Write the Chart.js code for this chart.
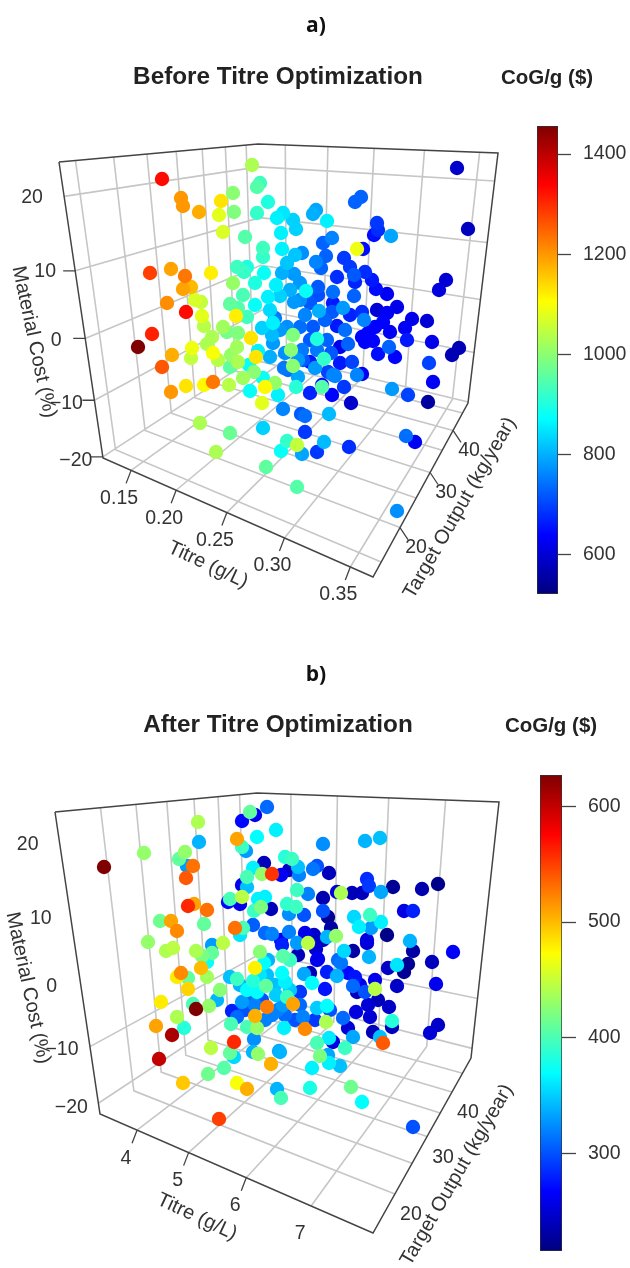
<!DOCTYPE html>
<html><head><meta charset="utf-8">
<style>
html,body{margin:0;padding:0;background:#fff;width:630px;height:1268px;overflow:hidden}
canvas{position:absolute;display:block}
</style>
<script src="https://cdn.jsdelivr.net/npm/chart.js@4"></script>
</head><body>
<canvas id="panelA" style="left:0;top:0"></canvas>
<canvas id="panelB" style="left:0;top:634px"></canvas>
<canvas id="barA"></canvas>
<canvas id="barB"></canvas>
<script>
// ---------- values ----------
const jetStops = ['#00007F','#0000FF','#007FFF','#00FFFF','#7FFF7F','#FFFF00','#FF7F00','#FF0000','#7F0000'];

// Panel a: position on the view plane of the 3-D box, and CoG/g
const panelA_view_x = [
162,181,183,199,221,219,233,234,223,252,
260,257,257,245,150,171,185,211,191,183,
167,186,195,201,202,204,152,138,172,162,
192,191,171,186,204,213,229,243,250,237,
247,244,233,255,243,230,238,255,236,247,
223,227,238,212,251,207,237,213,218,231,
238,230,256,258,249,254,264,276,268,270,
273,270,273,285,303,315,298,288,333,265,
275,263,278,296,262,283,293,291,293,317,
324,322,310,332,344,268,277,283,293,296,
281,316,313,327,377,378,374,391,355,361,
457,468,363,357,332,323,263,263,282,295,
302,287,316,326,321,344,350,365,337,354,
355,372,376,387,446,439,282,294,300,306,
318,318,333,354,294,310,319,333,343,332,
350,362,377,397,387,364,412,427,383,405,
337,390,375,362,368,365,373,407,432,287,
300,313,327,302,317,348,340,331,340,389,
378,395,429,459,452,433,328,357,362,335,
392,408,428,301,305,329,351,305,263,200,
230,216,266,297,287,297,281,302,324,317,
349,406,415,397,
280,290,300,305,325,345,310,280,275,310,
322,352,298,284,262,272];
const panelA_view_y = [
179,198,206,212,201,215,193,212,232,165,
183,187,213,237,273,269,276,273,287,289,
303,312,300,302,316,326,334,347,355,367,
348,358,392,386,385,382,385,378,391,267,
267,272,283,283,295,304,308,305,316,317,
327,332,333,337,338,344,347,353,360,355,
362,367,357,351,365,372,273,285,297,310,
323,357,343,353,360,368,377,370,375,387,
383,378,395,387,403,409,335,350,366,339,
359,387,393,395,387,202,218,213,220,229,
233,210,214,221,223,230,235,236,202,197,
168,229,249,249,238,243,248,257,249,255,
253,263,262,256,268,258,267,272,277,275,
282,280,289,294,280,290,273,274,283,291,
287,295,292,296,302,303,311,303,308,312,
315,312,310,307,313,320,319,321,322,328,
326,332,327,337,333,342,341,340,342,327,
327,327,340,350,350,344,347,353,363,347,
354,357,363,348,355,382,372,375,374,376,
389,395,402,414,416,414,403,432,428,423,
433,452,467,487,441,445,451,454,442,452,
447,436,442,511,
296,290,300,315,320,330,340,330,318,362,
385,362,360,368,328,335];
const panelA_cog = [
1330,1200,1200,1180,1130,1080,1000,990,1070,1030,
930,950,920,950,1280,1190,1230,1120,1170,1190,
1210,1330,1070,1050,1080,1040,1310,1456,1180,1260,
1090,1050,1200,1130,1110,1230,1040,1020,880,930,
900,920,1010,900,940,960,950,880,1120,930,
1020,980,990,1030,1130,1030,1020,1100,1040,1010,
1030,960,1130,860,880,1000,880,860,860,840,
860,800,780,770,720,780,790,740,760,1110,
1010,880,860,910,1080,760,990,1000,1000,900,
920,950,670,640,690,900,860,850,830,830,
860,790,800,860,690,680,650,790,730,730,
590,580,650,1090,760,730,930,920,860,820,
770,820,760,730,730,690,690,680,680,720,
670,660,650,630,600,610,800,780,780,880,
720,710,740,730,780,720,800,660,780,720,
670,680,600,620,630,760,620,600,640,630,
660,630,640,640,640,640,640,660,620,770,
740,720,730,750,750,730,620,720,660,730,
650,640,700,570,570,630,700,760,630,760,
780,700,550,720,740,810,590,690,830,1030,
970,1030,960,950,920,1050,880,790,810,690,
680,740,630,770,
830,800,770,760,730,740,720,780,750,660,
640,700,780,750,830,810];

// Panel b
const panelB_view_x = [
104,144,198,199,185,179,187,193,186,237,
242,250,255,242,246,257,253,247,262,228,
230,242,247,242,240,188,194,207,160,171,
177,204,254,235,243,240,253,148,166,173,
196,212,223,212,202,207,201,207,181,177,
188,188,161,220,217,209,193,196,177,156,
172,184,211,234,232,230,237,255,260,264,
267,282,266,253,247,257,285,276,242,255,
267,293,287,255,237,231,247,257,254,279,
258,284,305,303,278,317,327,325,300,312,
304,327,337,308,283,290,298,336,318,326,
329,317,320,333,267,276,323,365,380,285,
292,264,272,281,289,298,299,313,317,329,
367,369,393,422,438,381,337,341,352,362,
297,308,323,265,258,261,271,287,296,289,
304,323,328,404,413,354,370,359,371,381,
331,387,265,272,289,281,282,305,314,297,
323,327,367,367,410,413,453,353,344,316,
317,369,338,341,388,408,397,404,432,310,
355,348,375,353,360,397,436,357,365,375,
378,368,389,356,370,343,392,392,438,430,
348,373,353,383,380,345,159,230,234,253,
224,208,183,237,247,271,280,277,281,310,
312,329,328,340,351,362,219,413,
240,250,262,272,285,295,265,245,290,275,
260,268,283,300,315,330];
const panelB_view_y = [
867,853,822,842,852,859,866,866,878,839,
821,812,815,847,851,837,868,877,874,902,
899,885,887,897,904,906,904,910,921,921,
931,924,911,928,928,935,925,942,951,948,
951,945,943,953,956,962,968,977,973,977,
978,989,1002,990,1000,1006,1004,1009,1017,1026,
1035,1028,1048,1042,1011,977,979,968,952,963,
975,973,986,981,990,992,982,995,1002,1005,
1007,1004,997,1016,1017,1024,1027,1028,1039,1051,
1054,1028,1029,1017,1010,1008,1006,989,992,983,
974,972,976,943,956,960,955,936,959,1022,
1038,1043,1056,1042,807,830,844,841,838,857,
859,863,874,875,870,867,875,869,866,873,
879,886,887,889,884,892,892,893,893,893,
890,894,898,897,899,907,909,904,907,914,
915,911,917,911,911,917,915,927,928,922,
928,935,933,934,932,940,945,933,935,943,
940,937,940,943,941,951,952,951,951,949,
960,957,960,963,968,964,965,972,962,973,
977,973,980,986,985,986,984,992,992,989,
1000,1005,1007,1012,1017,1018,1021,1027,1025,1033,
1028,1032,1037,1043,1037,1048,1059,1053,1057,1052,
1068,1074,1083,1083,1089,1064,1052,1089,1098,1088,
1068,1063,1055,1066,1087,1102,1119,1127,
985,1000,1000,1015,1015,1020,1020,1010,990,985,
975,960,1005,1005,1020,1010];
const panelB_cog = [
627,430,440,340,430,410,330,530,540,510,
270,410,265,395,330,370,365,400,430,270,
400,260,345,445,260,560,510,530,415,510,
520,410,395,530,400,360,305,430,440,445,
440,330,445,410,420,375,500,435,520,480,
410,490,480,425,340,430,400,627,440,510,
610,385,445,560,280,345,395,478,425,370,
345,370,410,385,370,370,365,350,330,320,
525,510,395,505,310,400,400,430,325,335,
430,365,520,320,320,350,370,275,290,370,
335,280,340,445,405,395,240,430,260,440,
362,400,420,255,310,365,325,340,345,385,
395,240,555,265,245,345,320,315,300,240,
285,290,225,235,220,335,250,440,240,240,
395,320,235,365,365,420,240,390,395,325,
300,300,225,255,280,355,395,365,330,365,
230,220,310,320,320,265,280,260,245,330,
240,340,255,250,340,230,265,230,355,250,
260,340,310,315,245,225,360,225,240,240,
275,270,260,310,260,245,260,240,300,445,
240,250,245,255,250,310,385,240,245,250,
250,240,335,540,345,395,600,410,355,340,
405,415,495,470,505,505,340,340,400,380,
365,365,335,345,415,370,550,300,
340,310,300,320,310,300,320,300,350,345,
360,340,330,310,290,300];

// Axis ticks
const panelA_titreTicks = [0.15,0.20,0.25,0.30,0.35];
const panelA_titreLabels = ['0.15','0.20','0.25','0.30','0.35'];
const panelB_titreTicks = [4,5,6,7];
const panelB_titreLabels = ['4','5','6','7'];
const outputGridA = [15,20,25,30,35,40,45];
const outputGridB = [20,25,30,35,40,45];
const outputTicks = [20,30,40];
const costTicks = [-20,-10,0,10,20];
const panelA_cogTicks = [600,800,1000,1200,1400];
const panelB_cogTicks = [300,400,500,600];

// ---------- layout of the two 3-D boxes ----------
const costLabDx=[-27,-28,-29,-30,-32], costLabDy=[4,3,2,1,1];
const axisFont='20px "Liberation Sans"', titleFont='bold 24.3px "Liberation Sans"', capFont='bold 20.5px "Liberation Sans"';
const panels = {
 a:{ top:0, h:634, xs:panelA_view_x, ys:panelA_view_y, cog:panelA_cog, cogRange:[522,1456],
   fl:[103,458], fr:[373,577], far:[468,403], back:[263,353], lt:[59,162], bt:[258,144], rt:[498,153],
   titreRange:[0.1157,0.3657], outRange:[13.05,48.1], costRange:[-20.2,24.3],
   titreTicks:panelA_titreTicks, titreLabels:panelA_titreLabels, outGrid:outputGridA,
   titreTick:[-5,13], titreLab:[-12,28], outTick:[8,12], outLab:[16,20], costTick:[-12,0],
   texts:[
    {t:'a)',x:316,y:26,font:'bold 21px "Open Sans"',c:'#111'},
    {t:'Before Titre Optimization',x:278,y:77,font:titleFont,c:'#222'},
    {t:'CoG/g ($)',x:547,y:78,font:capFont,c:'#222'},
    {t:'Material Cost (%)',x:34,y:342,rot:78,font:axisFont,c:'#333'},
    {t:'Titre (g/L)',x:208,y:565,rot:25,font:axisFont,c:'#333'},
    {t:'Target Output (kg/year)',x:460,y:508,rot:-60,font:axisFont,c:'#333'}]},
 b:{ top:634, h:634, xs:panelB_view_x, ys:panelB_view_y, cog:panelB_cog, cogRange:[216,627],
   fl:[100,1114], fr:[373,1233], far:[471,1058], back:[262,1003], lt:[55,812], bt:[257,793], rt:[499,802],
   titreRange:[3.21,7.85], outRange:[14.5,49.5], costRange:[-22,24],
   titreTicks:panelB_titreTicks, titreLabels:panelB_titreLabels, outGrid:outputGridB,
   titreTick:[-5,13], titreLab:[-11,28], outTick:[8,12], outLab:[16,21], costTick:[-13,0],
   texts:[
    {t:'b)',x:316,y:675,font:'bold 21px "Open Sans"',c:'#111'},
    {t:'After Titre Optimization',x:278,y:725,font:titleFont,c:'#222'},
    {t:'CoG/g ($)',x:551,y:726,font:capFont,c:'#222'},
    {t:'Material Cost (%)',x:28,y:988,rot:78,font:axisFont,c:'#333'},
    {t:'Titre (g/L)',x:197,y:1217,rot:25,font:axisFont,c:'#333'},
    {t:'Target Output (kg/year)',x:457,y:1175,rot:-60,font:axisFont,c:'#333'}]}
};

// perspective map of a unit square onto a quadrilateral (a box face)
function face(p0,p1,p2,p3){
  const sx=p0[0]-p1[0]+p2[0]-p3[0], sy=p0[1]-p1[1]+p2[1]-p3[1];
  const dx1=p1[0]-p2[0], dx2=p3[0]-p2[0], dy1=p1[1]-p2[1], dy2=p3[1]-p2[1];
  const den=dx1*dy2-dx2*dy1, g=(sx*dy2-dx2*sy)/den, h=(dx1*sy-sx*dy1)/den;
  const a=p1[0]-p0[0]+g*p1[0], b=p3[0]-p0[0]+h*p3[0];
  const d=p1[1]-p0[1]+g*p1[1], e=p3[1]-p0[1]+h*p3[1];
  return (u,v)=>{const w=g*u+h*v+1; return {x:(a*u+b*v+p0[0])/w, y:(d*u+e*v+p0[1])/w};};
}
const norm=(v,r)=>(v-r[0])/(r[1]-r[0]);
const GAP={x:NaN,y:NaN};

function jetColor(t){
  t=Math.min(1,Math.max(0,t))*(jetStops.length-1);
  const i=Math.min(jetStops.length-2,Math.floor(t)), f=t-i;
  const rgb=s=>[1,3,5].map(k=>parseInt(s.substr(k,2),16));
  const A=rgb(jetStops[i]),B=rgb(jetStops[i+1]);
  return 'rgb('+A.map((c,k)=>Math.round(c+(B[k]-c)*f)).join(',')+')';
}

const textPlugin={id:'panelText',afterDatasetsDraw(chart){
  const cfg=chart.options.plugins.panelText, c=chart.ctx;
  const sx=chart.scales.x, sy=chart.scales.y;
  c.save();
  for(const it of cfg.items){
    c.save();
    c.translate(sx.getPixelForValue(it.x),sy.getPixelForValue(it.y));
    if(it.rot)c.rotate(it.rot*Math.PI/180);
    c.font=it.font; c.fillStyle=it.c; c.textAlign=it.align||'center'; c.textBaseline='middle';
    c.fillText(it.t,0,0);
    c.restore();
  }
  c.restore();
}};

function buildPanel(id,p){
  const floor=face(p.fl,p.fr,p.far,p.back);
  const left =face(p.fl,p.back,p.bt,p.lt);
  const right=face(p.back,p.far,p.rt,p.bt);
  const grid=[], box=[], ticks=[], items=[...p.texts];
  const labelFont='19.5px "Liberation Sans"';
  const seg=(arr,...pts)=>{arr.push(...pts,GAP);};
  p.titreTicks.forEach((v,i)=>{
    const u=norm(v,p.titreRange);
    seg(grid,floor(u,0),floor(u,1),right(u,1));
    const e=floor(u,0);
    seg(ticks,e,{x:e.x+p.titreTick[0],y:e.y+p.titreTick[1]});
    items.push({t:p.titreLabels[i],x:e.x+p.titreLab[0],y:e.y+p.titreLab[1],font:labelFont,c:'#333'});
  });
  p.outGrid.forEach(v=>{
    const t=norm(v,p.outRange);
    seg(grid,floor(1,t),floor(0,t),left(t,1));
  });
  outputTicks.forEach(v=>{
    const e=floor(1,norm(v,p.outRange));
    seg(ticks,e,{x:e.x+p.outTick[0],y:e.y+p.outTick[1]});
    items.push({t:String(v),x:e.x+p.outLab[0],y:e.y+p.outLab[1],font:labelFont,c:'#333'});
  });
  costTicks.forEach((v,i)=>{
    const w=norm(v,p.costRange);
    seg(grid,left(0,w),left(1,w),right(1,w));
    const e=left(0,w);
    seg(ticks,e,{x:e.x+p.costTick[0],y:e.y+p.costTick[1]});
    items.push({t:String(v).replace('-','\u2212'),x:e.x+costLabDx[i],y:e.y+costLabDy[i],font:labelFont,c:'#333'});
  });
  const P=a=>({x:a[0],y:a[1]});
  seg(box,P(p.lt),P(p.bt),P(p.rt),P(p.far),P(p.fr),P(p.fl),P(p.lt));
  seg(box,P(p.bt),P(p.back));
  seg(box,P(p.fl),P(p.back),P(p.far));

  const order=p.cog.map((_,i)=>i).sort((i,j)=>p.cog[i]-p.cog[j]);
  const pts=order.map(i=>({x:p.xs[i],y:p.ys[i]}));
  const cols=order.map(i=>jetColor(norm(p.cog[i],p.cogRange)));

  const line=(data,color,width,ord)=>({type:'scatter',data,showLine:true,pointRadius:0,borderColor:color,borderWidth:width,order:ord,spanGaps:false,fill:false,parsing:false});
  const el=document.getElementById(id);
  el.width=630; el.height=p.h; el.style.width='630px'; el.style.height=p.h+'px';
  new Chart(el,{
    type:'scatter',
    data:{datasets:[
      line(grid,'#c6c6c6',1.6,3),
      line(box,'#444',1.5,2),
      line(ticks,'#444',1.3,2),
      {label:'CoG/g ($)',data:pts,order:0,pointRadius:7.2,pointBorderWidth:0,pointBackgroundColor:cols,showLine:false}
    ]},
    options:{
      responsive:false,animation:false,
      layout:{padding:0,autoPadding:false},
      plugins:{legend:{display:false},tooltip:{enabled:false},title:{display:false},panelText:{items}},
      scales:{
        x:{type:'linear',display:false,min:0,max:630},
        y:{type:'linear',display:false,reverse:true,min:p.top,max:p.top+p.h}
      }
    },
    plugins:[textPlugin]
  });
}

function buildBar(id,range,tickVals,left,top,bottom,barW,tickLen,tickGap){
  const pad=8;
  const el=document.getElementById(id);
  const W=630-left+2, H=bottom-top+pad*2;
  el.width=W; el.height=H;
  el.style.cssText=`left:${left-1}px;top:${top-pad}px;width:${W}px;height:${H}px`;
  new Chart(el,{
    type:'bar',
    data:{labels:['CoG/g ($)'],datasets:[{
      data:[[range[0],range[1]]],
      barPercentage:1,categoryPercentage:1,
      borderColor:'#333',borderWidth:1,borderSkipped:false,
      backgroundColor(ctx){
        const a=ctx.chart.chartArea; if(!a)return '#888';
        const g=ctx.chart.ctx.createLinearGradient(0,a.bottom,0,a.top);
        jetStops.forEach((c,i)=>g.addColorStop(i/(jetStops.length-1),c));
        return g;
      }
    }]},
    options:{
      responsive:false,animation:false,
      layout:{padding:{top:pad,bottom:pad,left:1,right:0},autoPadding:false},
      plugins:{legend:{display:false},tooltip:{enabled:false}},
      scales:{
        x:{display:false},
        y:{position:'right',min:range[0],max:range[1],
           afterBuildTicks(s){s.ticks=tickVals.map(v=>({value:v}));},
           afterFit(s){s.width=W-1-barW;s.paddingTop=0;s.paddingBottom=0;},
           grid:{drawOnChartArea:false,drawTicks:true,tickLength:tickLen,tickColor:'#444',tickWidth:1.3},
           border:{display:false},
           ticks:{padding:tickGap,color:'#333',font:{family:'"Liberation Sans"',size:19.5},autoSkip:false,maxRotation:0,callback:v=>String(v)}
        }
      }
    }
  });
}

buildPanel('panelA',panels.a);
buildPanel('panelB',panels.b);
buildBar('barA',panels.a.cogRange,panelA_cogTicks,537,126,594,21,13,12);
buildBar('barB',panels.b.cogRange,panelB_cogTicks,540,775,1251,22,14,12);
</script>
</body></html>
